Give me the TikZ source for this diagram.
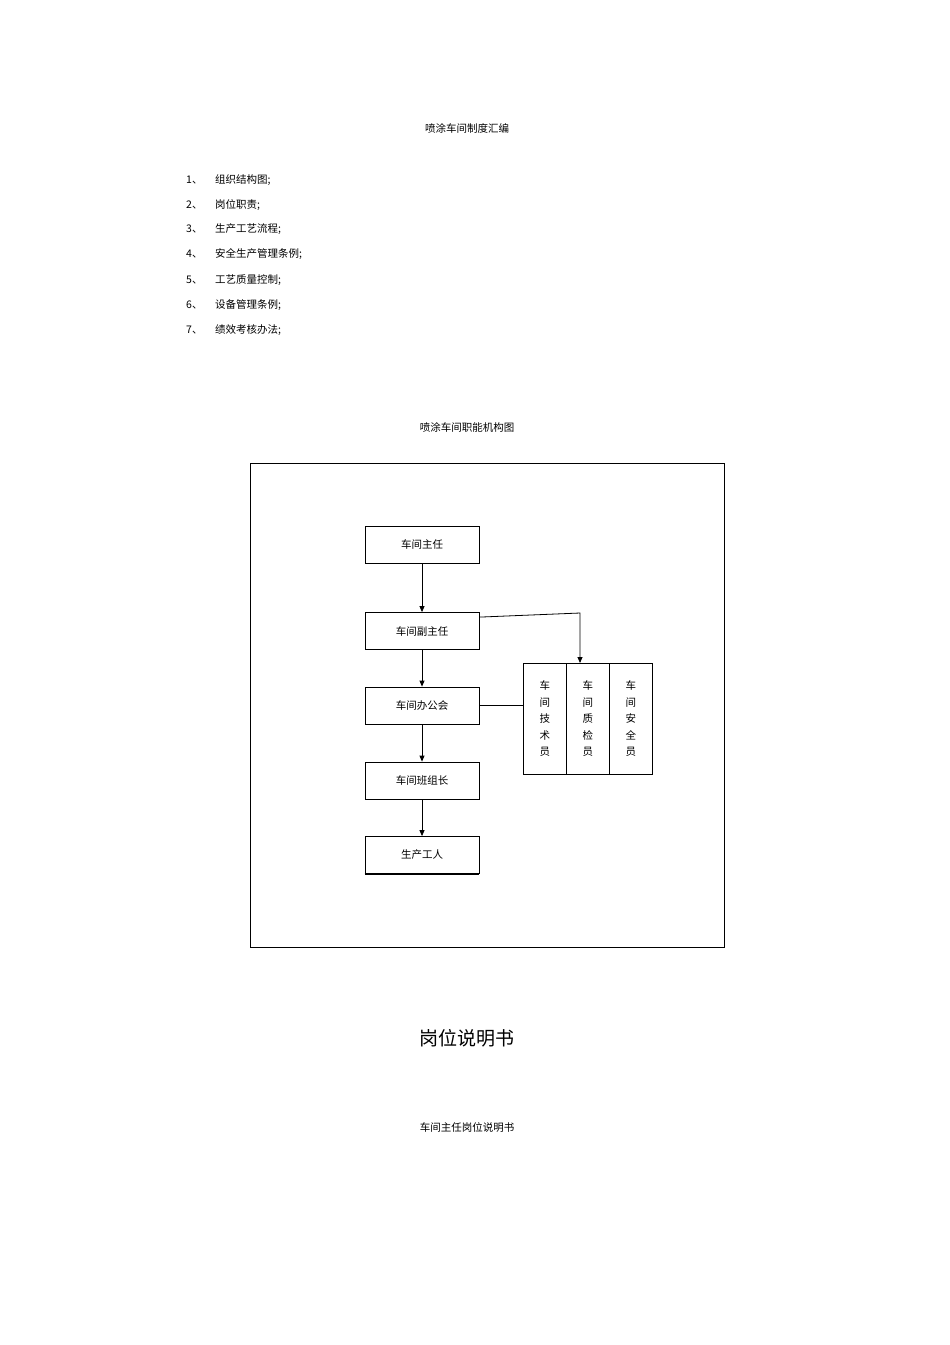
\documentclass[tikz,border=0pt]{standalone}
\usepackage{fontspec}
\setmainfont{Noto Sans CJK SC}
\usetikzlibrary{arrows.meta}
\begin{document}
\begin{tikzpicture}[x=1pt,y=-1pt,
  txt/.style={inner sep=0pt,font=\fontsize{10.5}{12}\selectfont},
  bx/.style={draw,line width=0.8pt,minimum width=114pt,minimum height=37pt,inner sep=0pt,font=\fontsize{10.5}{12}\selectfont},
  col/.style={draw,line width=0.8pt,minimum width=43pt,minimum height=111pt,inner sep=0pt,anchor=north west,text width=12pt,align=center,font=\fontsize{10.5}{16.5}\selectfont},
  arr/.style={-{Triangle[length=6pt,width=5pt]},line width=0.8pt}]
\useasboundingbox (0,0) rectangle (950,1345);
\node[txt] (t1) at (467,128) {喷涂车间制度汇编};
\foreach \n/\y/\s in {1/180/组织结构图;,2/205/岗位职责;,3/229/生产工艺流程;,4/254/安全生产管理条例;,5/280/工艺质量控制;,6/305/设备管理条例;,7/330/绩效考核办法;}{
  \node[txt,anchor=west] (n\n) at (186,\y) {\n、};
  \node[txt,anchor=west] (s\n) at (215,\y) {\s};
}
\node[txt] (t2) at (467,427) {喷涂车间职能机构图};
\draw[line width=0.8pt] (250,463) rectangle (724,947);
\node[bx] (b1) at (422,544.5) {车间主任};
\node[bx] (b2) at (422,631) {车间副主任};
\node[bx] (b3) at (422,705.5) {车间办公会};
\node[bx] (b4) at (422,780.5) {车间班组长};
\node[bx] (b5) at (422,855) {生产工人};
\draw[line width=1.4pt] (b5.south west) -- (b5.south east);
\draw[arr] (b1) -- (b2);
\draw[arr] (b2) -- (b3);
\draw[arr] (b3) -- (b4);
\draw[arr] (b4) -- (b5);
\node[col] (c1) at (523,663) {车\\间\\技\\术\\员};
\node[col] (c2) at (566,663) {车\\间\\质\\检\\员};
\node[col] (c3) at (609,663) {车\\间\\安\\全\\员};
\coordinate (k) at (580,613);
\draw[arr] ([yshift=-5pt]b2.north east) -- (k) -- (c2.north-|k);
\draw[line width=0.8pt] (b3.east) -- (c1.west|-b3.east);
\node[inner sep=0pt,font=\fontsize{19}{22}\selectfont] (t3) at (467,1038) {岗位说明书};
\node[txt] (t4) at (467,1127) {车间主任岗位说明书};
\end{tikzpicture}
\end{document}
